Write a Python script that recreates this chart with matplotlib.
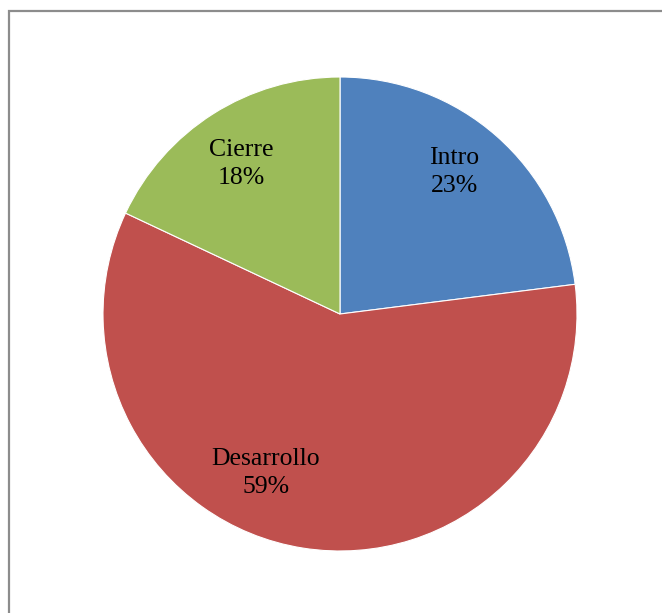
import numpy as np
import matplotlib.pyplot as plt
from matplotlib.patches import Rectangle

# porcentajes por seccion
secciones = ['Intro', 'Desarrollo', 'Cierre']
porcentajes = [23, 59, 18]
colores = ['#4F81BD', '#C0504D', '#9BBB59']

fig = plt.figure(figsize=(6.62, 6.13), dpi=100)

# marco del grafico (se sale por la derecha y por abajo)
fig.patches.append(Rectangle((9 / 662, -0.05), 1.2, 1 - 11 / 613 + 0.05,
                             transform=fig.transFigure, fill=False,
                             edgecolor='#8c8c8c', linewidth=1.6))

ax = fig.add_axes([103 / 662, 62 / 613, 474 / 662, 474 / 613])
wedges, _ = ax.pie(porcentajes, colors=colores, startangle=90, counterclock=False,
                   radius=1, wedgeprops=dict(edgecolor='white', linewidth=0.8))
ax.set_xlim(-1, 1)
ax.set_ylim(-1, 1)
ax.set_aspect('equal')
ax.axis('off')

# etiquetas dentro de cada porcion
dist = [0.77, 0.74, 0.76]
ajuste = [2.6, -16.0, 1.0]
for w, nombre, p, d, a in zip(wedges, secciones, porcentajes, dist, ajuste):
    ang = np.deg2rad((w.theta1 + w.theta2) / 2 + a)
    ax.text(d * np.cos(ang), d * np.sin(ang), '{}\n{}%'.format(nombre, p),
            ha='center', va='center', fontsize=18.5, family='Liberation Serif',
            linespacing=1.35)

fig.savefig('out.png', dpi=100)
